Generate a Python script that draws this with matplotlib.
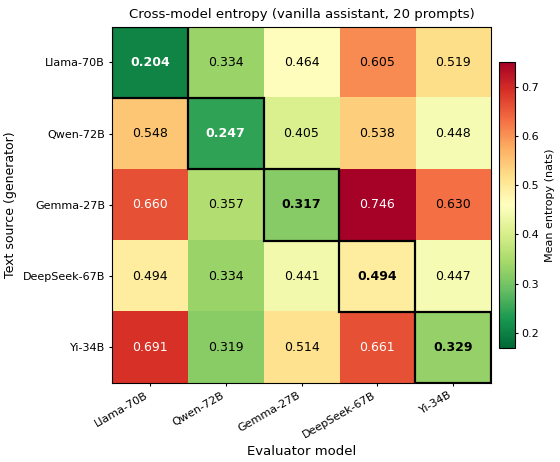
import numpy as np
import matplotlib
matplotlib.use("Agg")
import matplotlib.pyplot as plt
from matplotlib.patches import Rectangle

# 資料
generators = ["Llama-70B", "Qwen-72B", "Gemma-27B", "DeepSeek-67B", "Yi-34B"]
evaluators = ["Llama-70B", "Qwen-72B", "Gemma-27B", "DeepSeek-67B", "Yi-34B"]
entropy = np.array([
    [0.204, 0.334, 0.464, 0.605, 0.519],
    [0.548, 0.247, 0.405, 0.538, 0.448],
    [0.660, 0.357, 0.317, 0.746, 0.630],
    [0.494, 0.334, 0.441, 0.494, 0.447],
    [0.691, 0.319, 0.514, 0.661, 0.329],
])

fig = plt.figure(figsize=(5.6, 4.62), dpi=100)
ax = fig.add_axes([0.2, 0.171, 0.677, 0.771])
cax = fig.add_axes([0.891, 0.247, 0.028, 0.619])

im = ax.imshow(entropy, cmap="RdYlGn_r", vmin=0.17, vmax=0.75, aspect="auto")

n = len(generators)
for i in range(n):
    for j in range(n):
        v = entropy[i, j]
        color = "white" if (v > 0.645 or v < 0.25) else "black"
        weight = "bold" if i == j else "normal"
        ax.text(j, i, f"{v:.3f}", ha="center", va="center",
                color=color, fontsize=9, fontweight=weight)
    # 對角線外框
    ax.add_patch(Rectangle((i - 0.5, i - 0.5), 1, 1, fill=False,
                           edgecolor="black", linewidth=1.6))

ax.set_xticks(range(n))
ax.set_xticklabels(evaluators, rotation=30, ha="right", fontsize=8)
ax.set_yticks(range(n))
ax.set_yticklabels(generators, fontsize=8)
ax.tick_params(length=2.5, pad=2.5)
ax.set_xlabel("Evaluator model", fontsize=9.5)
ax.set_ylabel("Text source (generator)", fontsize=9)
ax.set_title("Cross-model entropy (vanilla assistant, 20 prompts)", fontsize=9.5)

cb = fig.colorbar(im, cax=cax)
cb.set_label("Mean entropy (nats)", fontsize=8)
cb.ax.tick_params(labelsize=8, length=2.5, pad=2.5)

fig.savefig("out.png", dpi=100)
